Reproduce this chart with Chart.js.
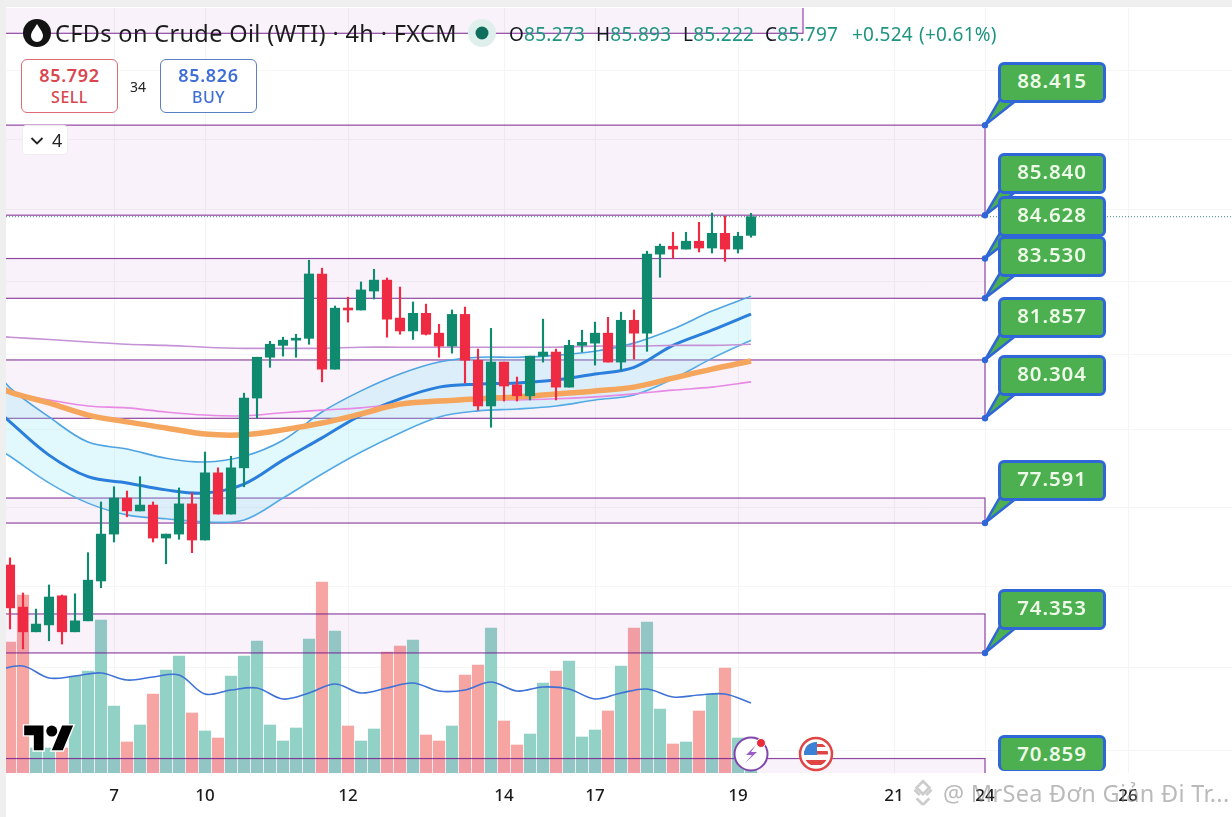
<!DOCTYPE html>
<html>
<head>
<meta charset="utf-8">
<script src="https://cdn.jsdelivr.net/npm/chart.js@4"></script>
<style>
  html, body { margin: 0; padding: 0; background: #fff; }
  body { width: 1232px; height: 817px; overflow: hidden; position: relative; font-family: "Noto Sans", sans-serif; }
  canvas { position: absolute; left: 0; top: 0; }
  .abs { position: absolute; white-space: nowrap; }
  .strip { position: absolute; background: #efefef; }
  .title { left: 55px; top: 17px; font-size: 23.5px; line-height: 32px; color: #1c1c1c; letter-spacing: 0.35px; }
  .ohlc { top: 21px; font-size: 19px; line-height: 26px; color: #1f9580; letter-spacing: .25px; }
  .ohlc b { font-weight: 400; color: #131722; }
  .btn { top: 59px; width: 95px; height: 52px; border-radius: 6px; border: 1px solid; text-align: center; background: #fff; box-sizing: content-box; }
  .btn .p { font-size: 18px; line-height: 20px; margin-top: 5px; font-weight: 600; letter-spacing: .7px; }
  .btn .s { font-size: 16px; line-height: 20px; margin-top: 2px; font-weight: 500; letter-spacing: .5px; }
  .box { position: absolute; left: 998px; width: 102px; height: 35px; background: #4caf50; border: 3px solid #2f66d8; border-radius: 6px;
         color: #eefbe9; font-size: 20.5px; font-weight: 600; line-height: 31px; text-align: center; letter-spacing: .9px; }
  .wm { left: 943px; top: 777px; font-size: 23.5px; line-height: 32px; color: rgba(130,130,130,.55); letter-spacing: .3px; }
</style>
</head>
<body>
<div class="strip" style="left:0;top:0;width:6px;height:817px"></div>
<div class="strip" style="left:0;top:0;width:1232px;height:7px"></div>
<canvas id="oilChart" width="1232" height="817"></canvas>

<svg class="abs" style="left:23px;top:19px" width="28" height="28" viewBox="0 0 28 28">
  <circle cx="14" cy="14" r="14" fill="#131313"/>
  <path d="M14 5 C17 10 20 13 20 17 A6 6 0 0 1 8 17 C8 13 11 10 14 5Z" fill="#fff"/>
</svg>
<div class="abs title">CFDs on Crude Oil (WTI) · 4h · FXCM</div>
<svg class="abs" style="left:467px;top:18px" width="30" height="30"><circle cx="15" cy="15" r="14" fill="#dff0ec"/><circle cx="15" cy="15" r="6.5" fill="#0f6e5c"/></svg>
<div class="abs ohlc" style="left:509px"><b>O</b>85.273</div>
<div class="abs ohlc" style="left:596px"><b>H</b>85.893</div>
<div class="abs ohlc" style="left:683px"><b>L</b>85.222</div>
<div class="abs ohlc" style="left:765px"><b>C</b>85.797</div>
<div class="abs ohlc" style="left:852px">+0.524</div>
<div class="abs ohlc" style="left:919px">(+0.61%)</div>

<div class="abs btn" style="left:21px;border-color:#de6a74;color:#d9464f"><div class="p">85.792</div><div class="s">SELL</div></div>
<div class="abs" style="left:130px;top:77px;font-size:14px;line-height:20px;color:#222">34</div>
<div class="abs btn" style="left:160px;border-color:#5a7fc4;color:#3f6fd6"><div class="p">85.826</div><div class="s">BUY</div></div>

<div class="abs" style="left:22px;top:125px;width:46px;height:30px;background:#fff;border:1px solid #eee;border-radius:4px;box-sizing:border-box"></div>
<svg class="abs" style="left:30px;top:136px" width="14" height="10"><path d="M1.5 2 L7 7.5 L12.5 2" fill="none" stroke="#222" stroke-width="1.8"/></svg>
<div class="abs" style="left:52px;top:127px;font-size:18px;line-height:26px;color:#222">4</div>

<svg class="abs" style="left:22px;top:720px" width="54" height="40" viewBox="-1.5 0 39 29">
  <path d="M14 22H7V11H0V4h14v18zM28 22h-8l7.5-18h8L28 22z" fill="#000" stroke="#fff" stroke-width="2" paint-order="stroke"/>
  <circle cx="20" cy="8" r="4" fill="#000" stroke="#fff" stroke-width="1" paint-order="stroke"/>
</svg>

<svg class="abs" style="left:732px;top:735px" width="40" height="38" viewBox="0 0 40 38">
  <circle cx="19" cy="19" r="16.5" fill="#fff" stroke="#8046ad" stroke-width="2"/>
  <path d="M24 10 L14 20 L20 20 L13 28 L25 17 L19 17 Z" fill="#9b5cc4"/>
  <circle cx="29" cy="8" r="4.5" fill="#ea2b3a" stroke="#fff" stroke-width="1"/>
</svg>
<svg class="abs" style="left:797px;top:735px" width="38" height="38" viewBox="0 0 38 38">
  <defs><clipPath id="flagClip"><circle cx="19" cy="19" r="12"/></clipPath></defs>
  <circle cx="19" cy="19" r="16" fill="#fff" stroke="#e04545" stroke-width="2.5"/>
  <g clip-path="url(#flagClip)">
    <rect x="7" y="7" width="24" height="24" fill="#fff"/>
    <rect x="7" y="9" width="24" height="3" fill="#e04545"/>
    <rect x="7" y="16" width="24" height="3.5" fill="#e04545"/>
    <rect x="7" y="25" width="24" height="5" fill="#e04545"/>
    <rect x="7" y="7" width="13" height="13" fill="#3b82d6"/>
  </g>
</svg>

<svg class="abs" style="left:908px;top:778px" width="30" height="30" viewBox="0 0 28 28" fill="none" stroke="rgba(170,170,170,.6)" stroke-width="2.5">
  <path d="M14 3 L20 9 L14 15 L8 9 Z M6 11 L11 16 M22 11 L17 16 M14 25 L8 19 M14 25 L20 19"/>
</svg>
<div class="abs wm">@ MrSea Đơn Giản Đi Tr...</div>

<script>
// candles, 4h bars
const candleOpen = [76.53,75.48,74.87,75.04,75.76,74.87,75.14,76.13,77.31,78.23,77.90,78.05,77.21,77.31,78.08,77.16,78.88,77.82,79.01,80.84,81.93,82.25,82.39,82.44,84.20,81.61,83.26,83.21,83.73,84.03,82.99,82.64,83.12,82.58,82.23,83.09,81.85,80.63,81.80,81.19,80.90,81.96,82.07,81.13,82.25,82.31,82.58,81.80,82.93,82.58,84.75,84.97,84.89,85.11,84.92,85.33,84.89,85.273];
const candleClose = [75.46,74.87,75.06,75.73,74.87,75.14,76.15,77.31,78.23,77.90,78.05,77.21,77.31,78.08,77.16,78.88,77.82,79.01,80.84,81.93,82.28,82.39,82.44,84.20,81.61,83.26,83.21,83.76,84.03,82.96,82.64,83.12,82.55,82.23,83.09,81.85,80.63,81.80,81.16,80.90,81.96,82.07,81.13,82.25,82.33,82.58,81.80,82.93,82.58,84.75,84.97,84.89,85.11,84.92,85.33,84.89,85.25,85.797];
const candleHigh = [76.71,75.83,75.43,76.03,75.78,75.81,76.84,78.13,78.52,78.41,78.78,78.13,77.31,78.49,78.36,79.42,79.01,79.31,80.97,81.93,82.36,82.47,82.55,84.58,84.36,83.32,83.56,83.98,84.33,84.09,83.84,83.43,83.37,82.82,83.21,83.29,82.15,82.71,81.80,81.40,81.96,82.96,82.15,82.39,82.66,82.88,83.01,83.15,83.21,84.83,85.03,85.36,85.36,85.64,85.90,85.81,85.36,85.893];
const candleLow = [74.94,74.45,74.87,74.65,74.57,74.87,75.14,75.96,77.11,77.75,77.90,77.11,76.56,77.18,76.84,77.16,77.82,77.82,78.52,80.31,81.66,81.96,81.93,82.28,81.27,81.61,82.88,83.21,83.51,82.47,82.55,82.41,82.53,81.93,82.04,81.24,80.52,80.07,80.76,80.76,80.79,81.80,80.79,81.13,82.07,81.72,81.80,81.58,81.88,82.09,84.11,84.64,84.89,84.81,84.78,84.55,84.78,85.222];
const volumes = [131,178,25,25,25,97,102,153,67,31,48,79,103,117,60,42,35,97,117,132,48,32,45,134,191,142,47,32,44,121,127,133,38,32,47,98,108,145,52,28,39,90,102,112,36,43,62,107,145,151,64,29,31,62,79,105,35,4];

// indicator lines, sampled every third bar
const lineBars = [-1,0,3,6,9,12,15,18,21,24,27,30,33,36,39,42,45,48,51,54,57];
const bandUpper = [81.56,81.11,80.34,79.68,79.50,79.26,79.16,79.31,79.73,80.47,81.03,81.48,81.80,81.93,81.93,81.98,82.09,82.31,82.69,83.18,83.59];
const bandMid = [80.52,80.21,79.34,78.78,78.62,78.44,78.36,78.59,79.21,79.79,80.39,80.82,81.13,81.21,81.24,81.32,81.48,81.66,82.25,82.66,83.10];
const bandLower = [79.52,79.31,78.62,78.10,77.80,77.70,77.62,77.67,78.23,78.85,79.42,79.92,80.34,80.50,80.55,80.63,80.79,80.92,81.35,81.90,82.39];
const orangeMa = [81.19,81.00,80.71,80.39,80.21,80.05,79.89,79.87,80.00,80.18,80.42,80.68,80.76,80.82,80.87,80.95,81.03,81.13,81.37,81.61,81.83];
const pinkMa = [81.05,80.97,80.79,80.63,80.58,80.47,80.39,80.37,80.45,80.52,80.58,80.68,80.73,80.79,80.79,80.82,80.87,80.95,81.05,81.13,81.27];
const purpleMa = [82.50,82.47,82.41,82.34,82.28,82.25,82.20,82.17,82.17,82.17,82.20,82.20,82.20,82.20,82.20,82.20,82.23,82.23,82.25,82.25,82.28];

const volMaBars = [-1,1,3,5,7,9,11,13,15,17,19,21,23,25,27,29,31,33,35,37,39,41,43,45,47,49,51,53,55,57];
const volMa = [103,107,95,97,100,93,96,98,79,83,85,74,80,89,80,85,90,82,83,91,82,86,84,74,80,84,76,78,79,70];

// supply / demand zones
const zoneTop = [96,88.415,84.628,81.857,78.23,75.31,71.82];
const zoneBottom = [91.12,85.84,83.53,80.304,77.591,74.353,70.859];
const zoneEndBar = [61,75,75,75,75,75,75];

const calloutValues = [88.415,85.84,84.628,83.53,81.857,80.304,77.591,74.353,70.859];
const calloutBoxTop = [62,153,196,236,297,355,460,589,735];
const calloutBar = 75;

const lastPrice = 85.797;

const tickBars = [8,15,26,38,45,56,68,75,86];
const tickLabels = ['7','10','12','14','17','19','21','24','26'];
const gridPrices = [72,74,76,78,80,82,84,86,88,90];

const GREEN = '#0f8a6e';
const RED = '#ee2b42';

const barIndex = candleOpen.map((v, i) => i);
const isUp = i => candleClose[i] >= candleOpen[i];
const candleColors = barIndex.map(i => isUp(i) ? GREEN : RED);
const volColors = barIndex.map(i => isUp(i) ? '#92d1c6' : '#f6a5a3');

function linePoints(bars, values) {
  return bars.map((b, i) => ({ x: b, y: values[i] }));
}

// zone rectangles go right above the volume bars, under the candles
const zonesPlugin = {
  id: 'zones',
  afterDatasetDraw(chart, args) {
    if (args.index !== 0) return;
    const { ctx, chartArea, scales } = chart;
    ctx.save();
    ctx.beginPath();
    ctx.rect(chartArea.left, chartArea.top, chartArea.width, chartArea.height);
    ctx.clip();
    zoneTop.forEach((top, i) => {
      const y1 = scales.y.getPixelForValue(top);
      const y2 = scales.y.getPixelForValue(zoneBottom[i]);
      const x1 = chartArea.left - 2;
      const x2 = scales.x.getPixelForValue(zoneEndBar[i]);
      ctx.fillStyle = 'rgba(156,39,176,0.06)';
      ctx.fillRect(x1, y1, x2 - x1, y2 - y1);
      ctx.strokeStyle = 'rgba(118,28,140,0.8)';
      ctx.lineWidth = 1.2;
      ctx.strokeRect(x1, y1, x2 - x1, y2 - y1);
    });
    ctx.restore();
  }
};

// tails of the price callouts, the boxes themselves are html on top
const calloutTailPlugin = {
  id: 'calloutTails',
  afterDatasetsDraw(chart) {
    const { ctx, scales } = chart;
    const ax = scales.x.getPixelForValue(calloutBar);
    ctx.save();
    calloutValues.forEach((v, i) => {
      if (v < 71) return; // anchor is below the pane
      const ay = scales.y.getPixelForValue(v);
      const by = calloutBoxTop[i] + 37;
      ctx.beginPath();
      ctx.moveTo(ax, ay);
      ctx.lineTo(1000, by);
      ctx.lineTo(1018, by);
      ctx.closePath();
      ctx.fillStyle = '#4caf50';
      ctx.strokeStyle = '#2f66d8';
      ctx.lineWidth = 2.5;
      ctx.lineJoin = 'round';
      ctx.fill();
      ctx.stroke();
      ctx.beginPath();
      ctx.arc(ax, ay, 3.2, 0, Math.PI * 2);
      ctx.fillStyle = '#2f66d8';
      ctx.fill();
    });
    ctx.restore();
  }
};

const lineDefaults = { type: 'line', pointRadius: 0, tension: 0.35, yAxisID: 'y', order: 5, fill: false };

const chart = new Chart(document.getElementById('oilChart').getContext('2d'), {
  type: 'bar',
  data: {
    datasets: [
      {
        label: 'Volume',
        data: barIndex.map(i => ({ x: i, y: volumes[i] })),
        backgroundColor: volColors,
        barThickness: 11.5,
        grouped: false,
        yAxisID: 'vol',
        order: 9
      },
      {
        ...lineDefaults,
        label: 'Band upper',
        data: linePoints(lineBars, bandUpper),
        borderColor: '#4fa3e3',
        borderWidth: 1.6,
        order: 7,
        fill: { target: '+1' },
        backgroundColor: 'rgba(130,225,245,0.24)'
      },
      {
        ...lineDefaults,
        label: 'Band lower',
        data: linePoints(lineBars, bandLower),
        borderColor: '#4fa3e3',
        borderWidth: 1.6,
        order: 7
      },
      {
        ...lineDefaults,
        label: 'Band mid',
        data: linePoints(lineBars, bandMid),
        borderColor: '#2b7fdc',
        borderWidth: 3,
        order: 6
      },
      {
        ...lineDefaults,
        label: 'Orange MA',
        data: linePoints(lineBars, orangeMa),
        borderColor: '#f5a55c',
        borderWidth: 5.5
      },
      {
        ...lineDefaults,
        label: 'Pink MA',
        data: linePoints(lineBars, pinkMa),
        borderColor: '#e889e4',
        borderWidth: 1.6
      },
      {
        ...lineDefaults,
        label: 'Purple MA',
        data: linePoints(lineBars, purpleMa),
        borderColor: '#c692d6',
        borderWidth: 1.6
      },
      {
        ...lineDefaults,
        label: 'Volume MA',
        data: linePoints(volMaBars, volMa),
        borderColor: '#3f72d6',
        borderWidth: 1.6,
        yAxisID: 'vol'
      },
      {
        ...lineDefaults,
        label: 'Last price',
        data: [{ x: -1, y: lastPrice }, { x: 95, y: lastPrice }],
        borderColor: '#3f8a80',
        borderWidth: 1,
        borderDash: [1, 2],
        tension: 0
      },
      {
        label: 'Wicks',
        data: barIndex.map(i => ({ x: i, y: [candleLow[i], candleHigh[i]] })),
        backgroundColor: candleColors,
        barThickness: 1.5,
        grouped: false,
        order: 2
      },
      {
        label: 'Bodies',
        data: barIndex.map(i => ({ x: i, y: [candleOpen[i], candleClose[i]] })),
        backgroundColor: candleColors,
        barThickness: 9.5,
        minBarLength: 2,
        grouped: false,
        order: 1
      }
    ]
  },
  options: {
    responsive: false,
    animation: false,
    devicePixelRatio: 1,
    layout: { padding: { left: 6, right: 0, top: 8, bottom: 0 } },
    plugins: { legend: { display: false }, tooltip: { enabled: false } },
    scales: {
      x: {
        type: 'linear',
        offset: false,
        min: -0.3077,
        max: 94,
        afterBuildTicks: scale => { scale.ticks = tickBars.map(v => ({ value: v })); },
        afterFit: scale => { scale.height = 44; },
        border: { display: false },
        grid: { color: '#f4f4f4', drawTicks: false, offset: false },
        ticks: {
          autoSkip: false,
          maxRotation: 0,
          padding: 13,
          color: '#1c1c1c',
          font: { family: 'Noto Sans', size: 17, weight: '500' },
          callback: (value, index) => tickLabels[index]
        }
      },
      y: {
        type: 'logarithmic',
        min: 71.48,
        max: 91.88,
        afterBuildTicks: scale => { scale.ticks = gridPrices.map(v => ({ value: v })); },
        afterFit: scale => { scale.width = 0; },
        border: { display: false },
        grid: { color: '#f6f6f6', drawTicks: false },
        ticks: { display: false }
      },
      vol: {
        type: 'linear',
        min: 0,
        max: 765,
        display: false
      }
    }
  },
  plugins: [zonesPlugin, calloutTailPlugin]
});

// price callout boxes, the last one is cut by the time axis strip
calloutValues.forEach((v, i) => {
  const el = document.createElement('div');
  el.className = 'box';
  el.style.top = calloutBoxTop[i] + 'px';
  el.textContent = v.toFixed(3);
  if (v < 71) { el.style.height = '32px'; el.style.borderBottomWidth = '1px'; }
  document.body.appendChild(el);
});
</script>
</body>
</html>
